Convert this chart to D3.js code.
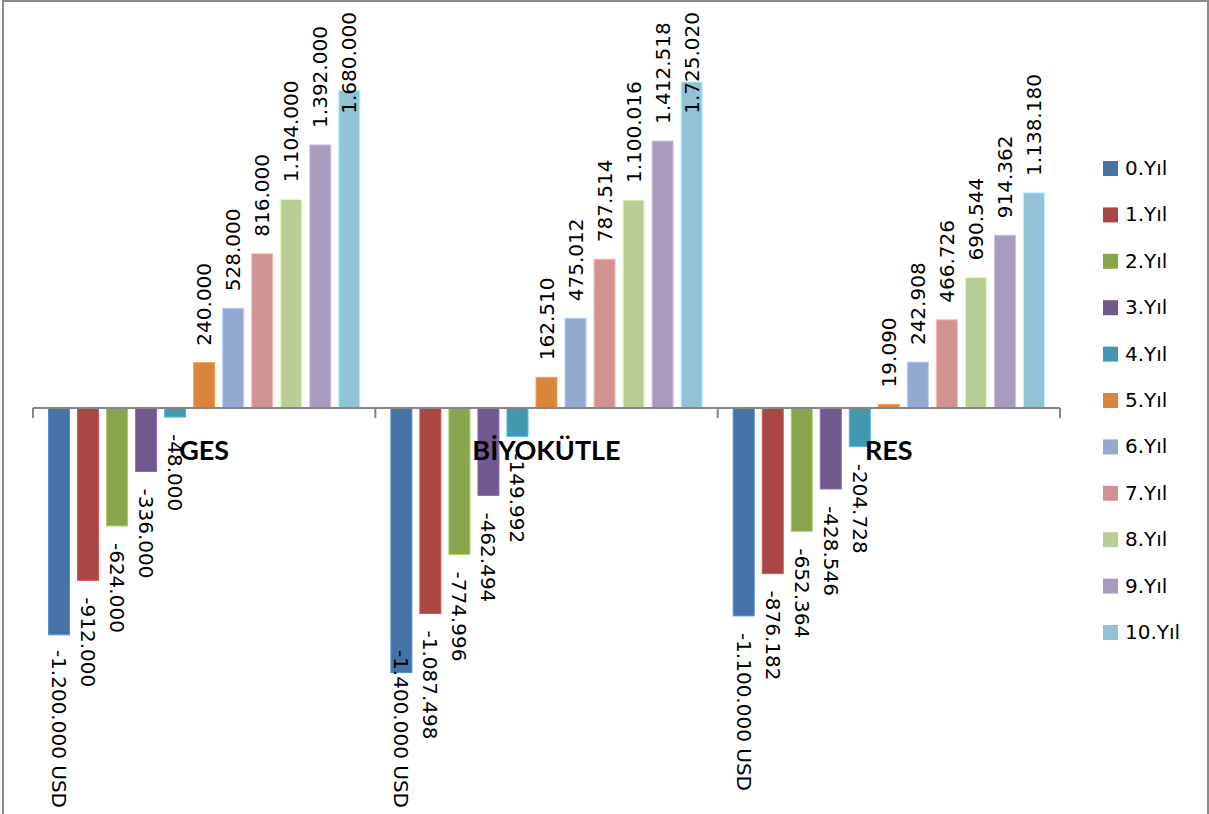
<!DOCTYPE html>
<html>
<head>
<meta charset="utf-8">
<script src="https://cdn.jsdelivr.net/npm/d3@7"></script>
<style>
  html, body { margin: 0; padding: 0; background: #fff; }
  svg { display: block; }
</style>
</head>
<body>
<svg id="chart" width="1209" height="814"></svg>
<script>
const categories = ["GES", "BİYOKÜTLE", "RES"];
const seriesNames = ["0.Yıl", "1.Yıl", "2.Yıl", "3.Yıl", "4.Yıl", "5.Yıl", "6.Yıl", "7.Yıl", "8.Yıl", "9.Yıl", "10.Yıl"];
const gesValues = [-1200000, -912000, -624000, -336000, -48000, 240000, 528000, 816000, 1104000, 1392000, 1680000];
const biyokutleValues = [-1400000, -1087498, -774996, -462494, -149992, 162510, 475012, 787514, 1100016, 1412518, 1725020];
const resValues = [-1100000, -876182, -652364, -428546, -204728, 19090, 242908, 466726, 690544, 914362, 1138180];
const seriesColors = ["#4572A7", "#AA4643", "#89A54E", "#71588F", "#4198AF", "#DB843D", "#93A9CF", "#D19392", "#B9CD96", "#A99BBD", "#92C3D4"];
const unitSuffix = [" USD", "", "", "", "", "", "", "", "", "", ""];

const valuesByCategory = [gesValues, biyokutleValues, resValues];

const svg = d3.select("#chart");

// chart border
svg.append("rect").attr("x", 3).attr("y", 1).attr("width", 1205).attr("height", 840)
  .attr("fill", "none").attr("stroke", "#8a8a8a").attr("stroke-width", 2);

const x0 = d3.scaleBand().domain(categories).range([33, 1060]).paddingInner(0).paddingOuter(0);
const x1 = d3.scaleBand().domain(seriesNames).range([0, x0.bandwidth()]).paddingInner(8/29).paddingOuter(0.535);
const y = d3.scaleLinear().domain([-2000000, 2000000]).range([786, 30]);

const fmt = v => {
  const s = d3.format(",")(Math.abs(v)).replace(/,/g, ".");
  return (v < 0 ? "-" : "") + s;
};

const data = [];
categories.forEach((c, ci) => {
  seriesNames.forEach((s, si) => {
    data.push({ cat: c, series: s, si: si, value: valuesByCategory[ci][si] });
  });
});

const bars = svg.append("g");
bars.selectAll("rect").data(data).join("rect")
  .attr("x", d => x0(d.cat) + x1(d.series))
  .attr("width", x1.bandwidth())
  .attr("y", d => Math.min(y(d.value), y(0)))
  .attr("height", d => Math.abs(y(d.value) - y(0)))
  .attr("fill", d => seriesColors[d.si])
  .attr("stroke", d => d3.color(seriesColors[d.si]).brighter(0.6))
  .attr("stroke-width", 1);

// axis
const axisG = svg.append("g").attr("transform", `translate(0,${y(0)})`);
axisG.append("line").attr("x1", x0.range()[0]).attr("x2", x0.range()[1])
  .attr("stroke", "#868686").attr("stroke-width", 2);
const boundaries = categories.map(c => x0(c)).concat([x0.range()[1]]);
axisG.selectAll("line.tick").data(boundaries).join("line").attr("class", "tick")
  .attr("x1", d => d).attr("x2", d => d).attr("y1", 0).attr("y2", 10)
  .attr("stroke", "#868686").attr("stroke-width", 2);

// data labels
const labels = svg.append("g")
  .attr("font-family", "'DejaVu Sans', sans-serif")
  .attr("font-size", 20)
  .attr("fill", "#000");
const gap = 17;
const topLimit = 12, bottomLimit = 808;
data.forEach(d => {
  const cx = x0(d.cat) + x1(d.series) + x1.bandwidth() / 2;
  const t = labels.append("text")
    .attr("dominant-baseline", "central")
    .attr("text-anchor", "start")
    .text(fmt(d.value) + unitSuffix[d.si]);
  const len = t.node().getComputedTextLength();
  if (d.value >= 0) {
    let sy = y(d.value) - gap;
    sy = Math.max(sy, topLimit + len);
    t.attr("transform", `translate(${cx},${sy}) rotate(-90)`);
  } else {
    let sy = y(d.value) + gap;
    sy = Math.min(sy, bottomLimit - len);
    t.attr("transform", `translate(${cx},${sy}) rotate(90)`);
  }
});

// category labels
svg.append("g").selectAll("text").data(categories).join("text")
  .attr("x", d => x0(d) + x0.bandwidth() / 2)
  .attr("y", 460)
  .attr("text-anchor", "middle")
  .attr("font-family", "Lato, sans-serif")
  .attr("font-weight", "bold")
  .attr("font-size", 27)
  .attr("fill", "#000")
  .text(d => d);

// legend
const legend = svg.append("g");
const legY = d3.scalePoint().domain(seriesNames).range([168, 632]);
legend.selectAll("rect").data(seriesNames).join("rect")
  .attr("x", 1103).attr("y", d => legY(d) - 7).attr("width", 15).attr("height", 15)
  .attr("fill", (d, i) => seriesColors[i]);
legend.selectAll("text").data(seriesNames).join("text")
  .attr("x", 1125).attr("y", d => legY(d))
  .attr("dominant-baseline", "central")
  .attr("font-family", "'DejaVu Sans', sans-serif")
  .attr("font-size", 20)
  .attr("fill", "#000")
  .text(d => d);
</script>
</body>
</html>
